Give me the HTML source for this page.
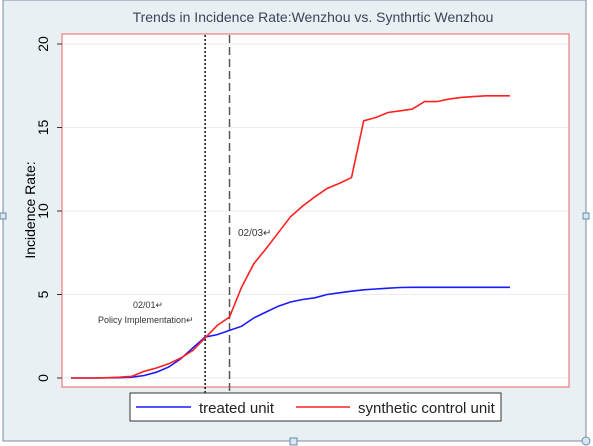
<!DOCTYPE html>
<html><head><meta charset="utf-8"><style>
html,body{margin:0;padding:0;background:#fff;}
svg{display:block;font-family:"Liberation Sans",sans-serif;}
</style></head><body>
<svg id="chart" width="593" height="446" viewBox="0 0 593 446">
<rect x="0" y="0" width="593" height="446" fill="#fff"/>
<rect x="3" y="0" width="583" height="441" fill="#e8f0f3" stroke="#7a8aa0" stroke-width="1"/>
<rect x="0" y="213" width="6" height="6" fill="#d8e8f0" stroke="#6a8aa8"/>
<rect x="583" y="213" width="6" height="6" fill="#d8e8f0" stroke="#6a8aa8"/>
<rect x="290" y="438" width="7" height="7" fill="#d8e8f0" stroke="#6a8aa8"/>
<circle cx="586" cy="441" r="4" fill="#d8e8f0" stroke="#6a8aa8"/>
<text x="313" y="22" text-anchor="middle" font-size="14" fill="#3a4558">Trends in Incidence Rate:Wenzhou vs. Synthrtic Wenzhou</text>
<rect x="62" y="34" width="507" height="353" fill="#fff" stroke="#f06060" stroke-width="1"/>
<g id="grid"></g>
<g id="yticks"></g>
<text transform="translate(35,210) rotate(-90)" text-anchor="middle" font-size="14" fill="#000">Incidence Rate:</text>
<g id="vlines"></g>
<g id="series"></g>
<text x="133" y="308" font-size="9" fill="#333">02/01↵</text>
<text x="98" y="323" font-size="9" fill="#333">Policy Implementation↵</text>
<text x="238" y="236" font-size="10" fill="#333">02/03↵</text>
<g>
<rect x="130" y="393" width="371" height="28" fill="#fff" stroke="#333" stroke-width="1"/>
<line x1="136" y1="407" x2="191" y2="407" stroke="#1a1aff" stroke-width="1.5"/>
<text x="199" y="413" font-size="15" fill="#222">treated unit</text>
<line x1="296" y1="407" x2="350" y2="407" stroke="#ff2020" stroke-width="1.5"/>
<text x="358" y="413" font-size="15" fill="#222">synthetic control unit</text>
</g>
</svg>
<script>
const yTicks = [0, 5, 10, 15, 20];
const treated = [0,0,0,0.01,0.02,0.05,0.15,0.35,0.65,1.15,1.8,2.45,2.6,2.85,3.1,3.6,3.95,4.3,4.55,4.7,4.8,5.0,5.1,5.2,5.28,5.33,5.38,5.42,5.43,5.43,5.43,5.43,5.43,5.43,5.43,5.43,5.43];
const synthetic = [0,0,0,0.02,0.05,0.1,0.4,0.6,0.85,1.2,1.65,2.4,3.15,3.65,5.45,6.85,7.75,8.7,9.65,10.3,10.85,11.35,11.65,12.0,15.4,15.6,15.9,16.0,16.1,16.55,16.55,16.7,16.8,16.85,16.9,16.9,16.9];
const eventIdx = [11, 13];
const NS='http://www.w3.org/2000/svg';
function xS(i){return 71 + i*(510-71)/(treated.length-1);}
function yS(v){return 378 - v*(378-44)/20;}
const grid=document.getElementById('grid'), yt=document.getElementById('yticks');
yTicks.forEach(t=>{
  const y=yS(t);
  const g=document.createElementNS(NS,'line');
  g.setAttribute('x1',63);g.setAttribute('x2',568);g.setAttribute('y1',y);g.setAttribute('y2',y);
  g.setAttribute('stroke','#e6eef2');g.setAttribute('stroke-width','1');
  
  
  grid.appendChild(g);
  const tk=document.createElementNS(NS,'line');
  tk.setAttribute('x1',57);tk.setAttribute('x2',62);tk.setAttribute('y1',y);tk.setAttribute('y2',y);
  tk.setAttribute('stroke','#333');
  
  
  yt.appendChild(tk);
  const tx=document.createElementNS(NS,'text');
  tx.setAttribute('transform','translate(48,'+y+') rotate(-90)');
  tx.setAttribute('text-anchor','middle');tx.setAttribute('font-size','14');
  tx.textContent=t;
  
  
  yt.appendChild(tx);
});
const vl=document.getElementById('vlines');
eventIdx.forEach((idx,k)=>{
  const l=document.createElementNS(NS,'line');
  const x=xS(idx);
  l.setAttribute('x1',x);l.setAttribute('x2',x);l.setAttribute('y1',35);l.setAttribute('y2',394);
  l.setAttribute('stroke',k===0?'#111':'#555');l.setAttribute('stroke-width','1.5');
  l.setAttribute('stroke-dasharray',k===0?'2,2':'8,4');
  
  
  vl.appendChild(l);
});
const sg=document.getElementById('series');
[[treated,'#1a1aff','treated-line'],[synthetic,'#ff2020','synthetic-line']].forEach(([d,c,n])=>{
  const p=document.createElementNS(NS,'polyline');
  p.setAttribute('points',d.map((v,i)=>xS(i).toFixed(1)+','+yS(v).toFixed(1)).join(' '));
  p.setAttribute('fill','none');p.setAttribute('stroke',c);p.setAttribute('stroke-width','1.6');
  
  
  sg.appendChild(p);
});
</script>
</body></html>
